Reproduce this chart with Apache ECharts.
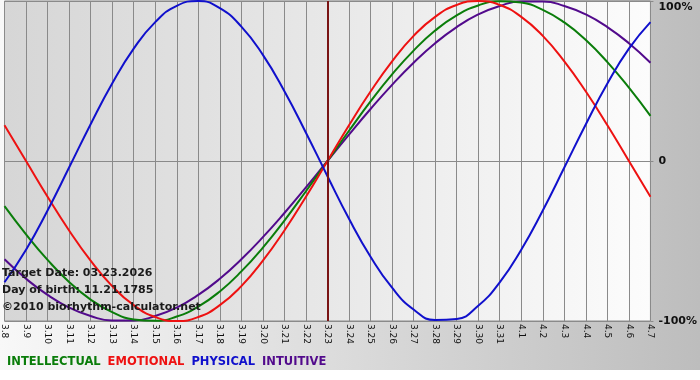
<!DOCTYPE html>
<html>
<head>
<meta charset="utf-8">
<script src="https://cdn.jsdelivr.net/npm/echarts@6/dist/echarts.min.js"></script>
<style>
  html, body { margin: 0; padding: 0; background: #fff; }
  #chart { width: 700px; height: 380px; }
</style>
</head>
<body>
<div id="chart"></div>
<script>
// days shown, 03.08 .. 04.07
var days = ['3.8', '3.9', '3.10', '3.11', '3.12', '3.13', '3.14', '3.15', '3.16', '3.17', '3.18',
	'3.19', '3.20', '3.21', '3.22', '3.23', '3.24', '3.25', '3.26', '3.27', '3.28', '3.29', '3.30',
	'3.31', '4.1', '4.2', '4.3', '4.4', '4.5', '4.6', '4.7'];

// values in %
var intellectual = [-28.2, -45.8, -61.8, -75.6, -86.6, -94.5, -99.0, -99.9, -97.2, -91.0, -81.5, -69.0, -54.1, -37.2, -18.9, 0,
	18.9, 37.2, 54.1, 69.0, 81.5, 91.0, 97.2, 99.9, 99.0, 94.5, 86.6, 75.6, 61.8, 45.8, 28.2];
var emotional = [22.3, 0, -22.3, -43.4, -62.3, -78.2, -90.1, -97.5, -100, -97.5, -90.1, -78.2, -62.3, -43.4, -22.3, 0,
	22.3, 43.4, 62.3, 78.2, 90.1, 97.5, 100, 97.5, 90.1, 78.2, 62.3, 43.4, 22.3, 0, -22.3];
var physical = [-75.8, -55.4, -30.9, -4.1, 23.0, 48.4, 70.2, 86.8, 97.0, 100, 95.5, 84.0, 66.3, 43.6, 17.7, -9.5,
	-36.1, -59.8, -79.2, -92.8, -99.4, -98.7, -90.5, -75.8, -55.4, -30.9, -4.1, 23.0, 48.4, 70.2, 86.8];
var intuitive = [-61.4, -73.6, -83.7, -91.6, -96.9, -99.7, -99.7, -96.9, -91.6, -83.7, -73.6, -61.4, -47.6, -32.5, -16.5, 0,
	16.5, 32.5, 47.6, 61.4, 73.6, 83.7, 91.6, 96.9, 99.7, 99.7, 96.9, 91.6, 83.7, 73.6, 61.4];

var yTicks = [-100, 0, 100];
var targetDay = '3.23';

var infoLines = ['Target Date: 03.23.2026', 'Day of birth: 11.21.1785', '\u00a92010 biorhythm-calculator.net'];

var colors = {
	INTELLECTUAL: '#0a7d0a',
	EMOTIONAL: '#ee1111',
	PHYSICAL: '#1010cc',
	INTUITIVE: '#520a8c'
};

var myChart = echarts.init(document.getElementById('chart'));

function line(name, data) {
	return {
		name: name,
		type: 'line',
		data: data,
		smooth: true,
		showSymbol: false,
		silent: true,
		lineStyle: { color: colors[name], width: 2 },
		itemStyle: { color: colors[name] }
	};
}

var series = [
	line('INTUITIVE', intuitive),
	line('INTELLECTUAL', intellectual),
	line('EMOTIONAL', emotional),
	line('PHYSICAL', physical)
];
// target date marker
series[0].markLine = {
	silent: true,
	symbol: 'none',
	label: { show: false },
	lineStyle: { color: '#7a1515', width: 2, type: 'solid' },
	data: [{ xAxis: targetDay }]
};

var option = {
	animation: false,
	backgroundColor: '#ffffff',
	textStyle: { fontFamily: 'DejaVu Sans' },
	graphic: [{
		type: 'rect',
		z: -10,
		silent: true,
		shape: { x: 0, y: 0, width: 700, height: 370 },
		style: {
			fill: new echarts.graphic.LinearGradient(0, 0, 1, 0, [
				{ offset: 0, color: '#f8f8f8' },
				{ offset: 1, color: '#bdbdbd' }
			])
		}
	}, {
		type: 'text',
		left: 2,
		top: 265,
		z: 100,
		silent: true,
		style: {
			text: infoLines.join('\n'),
			font: 'bold 11px "DejaVu Sans"',
			fill: '#1a1a1a',
			lineHeight: 17
		}
	}],
	grid: {
		left: 1,
		right: 49,
		top: 1,
		bottom: 59,
		show: true,
		borderColor: '#8a8a8a',
		borderWidth: 1,
		backgroundColor: new echarts.graphic.LinearGradient(0, 0, 1, 0, [
			{ offset: 0, color: '#d6d6d6' },
			{ offset: 0.45, color: '#e6e6e6' },
			{ offset: 1, color: '#fcfcfc' }
		])
	},
	legend: {
		left: -3,
		top: 350,
		icon: 'none',
		itemWidth: 0,
		itemGap: 2,
		selectedMode: false,
		data: Object.keys(colors).map(function (k) {
			return {
				name: k,
				textStyle: { color: colors[k], fontWeight: 'bold', fontSize: 11.5, fontFamily: 'DejaVu Sans' }
			};
		})
	},
	xAxis: {
		type: 'category',
		boundaryGap: false,
		data: days,
		axisLine: { show: true, lineStyle: { color: '#8a8a8a' } },
		axisTick: { show: true, length: 3, interval: 0, lineStyle: { color: '#8a8a8a' } },
		axisLabel: {
			interval: 0,
			rotate: -90,
			margin: 3,
			color: '#111',
			fontSize: 9,
			fontFamily: 'DejaVu Sans'
		},
		splitLine: { show: true, interval: 0, lineStyle: { color: '#8a8a8a', width: 1 } }
	},
	yAxis: {
		type: 'value',
		position: 'right',
		min: yTicks[0],
		max: yTicks[2],
		interval: 100,
		axisLine: { show: false },
		axisTick: { show: true, length: 3, lineStyle: { color: '#8a8a8a' } },
		splitLine: { show: true, lineStyle: { color: '#8a8a8a', width: 1 } },
		axisLabel: {
			margin: 8,
			color: '#111',
			fontSize: 11,
			fontWeight: 'bold',
			fontFamily: 'DejaVu Sans',
			formatter: function (v) {
				if (v === 100) return '{top|100%}';
				return v === 0 ? '0' : v + '%';
			},
			rich: {
				top: { fontSize: 11, fontWeight: 'bold', fontFamily: 'DejaVu Sans', color: '#111', padding: [13, 0, 0, 0] }
			}
		}
	},
	series: series
};

myChart.setOption(option);
</script>
</body>
</html>
